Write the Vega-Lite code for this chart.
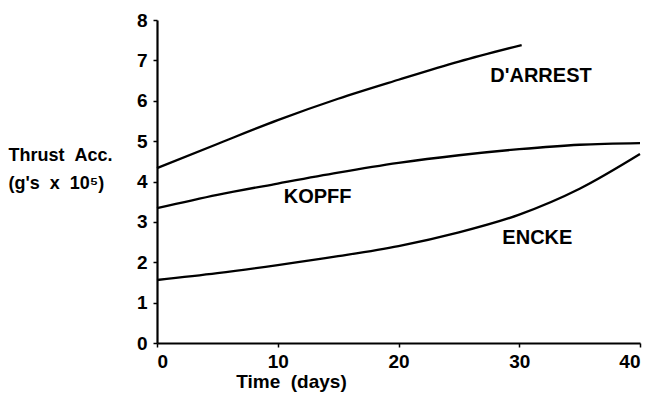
{
  "$schema": "https://vega.github.io/schema/vega-lite/v6.json",
  "width": 483,
  "height": 323,
  "autosize": "none",
  "padding": {"left": 157, "top": 20, "right": 12, "bottom": 56},
  "background": "white",
  "config": {
    "view": {"stroke": null},
    "font": "Liberation Sans",
    "axis": {
      "grid": false,
      "domainColor": "black",
      "domainWidth": 2.2,
      "tickColor": "black",
      "tickWidth": 1.5,
      "tickSize": 4,
      "labelFont": "Liberation Sans",
      "labelFontWeight": "bold",
      "labelFontSize": 19,
      "labelColor": "black",
      "titleFont": "Liberation Sans",
      "titleFontWeight": "bold",
      "titleFontSize": 18,
      "titleColor": "black"
    }
  },
  "datasets": {
    "curves": [
      {"comet": "D'ARREST", "day": 0, "acc": 4.33},
      {"comet": "D'ARREST", "day": 5, "acc": 4.93},
      {"comet": "D'ARREST", "day": 10, "acc": 5.52},
      {"comet": "D'ARREST", "day": 15, "acc": 6.05},
      {"comet": "D'ARREST", "day": 20, "acc": 6.52},
      {"comet": "D'ARREST", "day": 25, "acc": 6.97},
      {"comet": "D'ARREST", "day": 30.2, "acc": 7.38},
      {"comet": "KOPFF", "day": 0, "acc": 3.34},
      {"comet": "KOPFF", "day": 5, "acc": 3.67},
      {"comet": "KOPFF", "day": 10, "acc": 3.95},
      {"comet": "KOPFF", "day": 15, "acc": 4.22},
      {"comet": "KOPFF", "day": 20, "acc": 4.46},
      {"comet": "KOPFF", "day": 25, "acc": 4.65},
      {"comet": "KOPFF", "day": 30, "acc": 4.80},
      {"comet": "KOPFF", "day": 35, "acc": 4.91},
      {"comet": "KOPFF", "day": 40, "acc": 4.95},
      {"comet": "ENCKE", "day": 0, "acc": 1.56},
      {"comet": "ENCKE", "day": 5, "acc": 1.73},
      {"comet": "ENCKE", "day": 10, "acc": 1.93},
      {"comet": "ENCKE", "day": 15, "acc": 2.15},
      {"comet": "ENCKE", "day": 20, "acc": 2.40},
      {"comet": "ENCKE", "day": 25, "acc": 2.74},
      {"comet": "ENCKE", "day": 30, "acc": 3.18},
      {"comet": "ENCKE", "day": 35, "acc": 3.82},
      {"comet": "ENCKE", "day": 40, "acc": 4.68}
    ],
    "labels": [
      {"text": "D'ARREST", "day": 31.8, "acc": 6.61},
      {"text": "KOPFF", "day": 13.3, "acc": 3.61},
      {"text": "ENCKE", "day": 31.5, "acc": 2.6}
    ]
  },
  "layer": [
    {
      "data": {"name": "curves"},
      "mark": {"type": "line", "color": "black", "strokeWidth": 2.3, "interpolate": "monotone"},
      "encoding": {
        "x": {
          "field": "day", "type": "quantitative",
          "scale": {"domain": [0, 40], "nice": false},
          "axis": {"values": [0, 10, 20, 30, 40], "title": "Time\u00a0\u00a0(days)", "titleX": 134, "titleY": 38, "titleAlign": "center", "titleBaseline": "middle", "titleFontSize": 19, "labelPadding": 5}
        },
        "y": {
          "field": "acc", "type": "quantitative",
          "scale": {"domain": [0, 8], "nice": false},
          "axis": {"values": [0, 1, 2, 3, 4, 5, 6, 7, 8], "title": ["Thrust\u00a0\u00a0Acc.", "(g's\u00a0\u00a0x\u00a0\u00a010⁵)"], "titleAngle": 0, "titleX": -149, "titleY": 135, "titleAlign": "left", "titleBaseline": "middle", "titleLineHeight": 28, "labelPadding": 6}
        },
        "detail": {"field": "comet"}
      }
    },
    {
      "data": {"name": "labels"},
      "mark": {"type": "text", "font": "Liberation Sans", "fontWeight": "bold", "fontSize": 20, "color": "black", "align": "center", "baseline": "middle"},
      "encoding": {
        "x": {"field": "day", "type": "quantitative"},
        "y": {"field": "acc", "type": "quantitative"},
        "text": {"field": "text"}
      }
    }
  ]
}
